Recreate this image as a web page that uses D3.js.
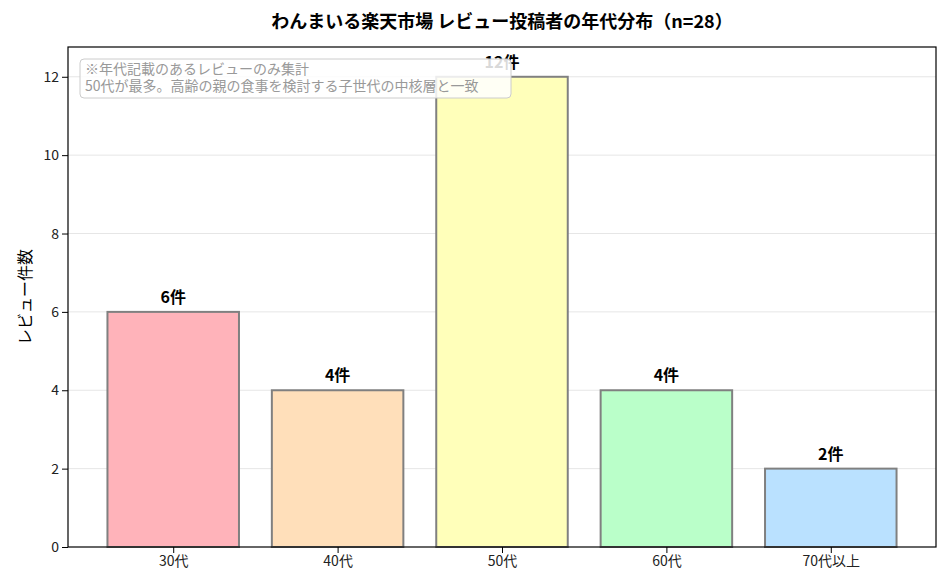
<!DOCTYPE html>
<html><head><meta charset="utf-8">
<script src="https://cdn.jsdelivr.net/npm/d3@7"></script>
<style>body{margin:0;background:#fff;font-family:"Noto Sans CJK JP","Noto Sans",sans-serif;}</style>
</head><body><div id="chart"></div>
<script>
// data
const categories = ['30代', '40代', '50代', '60代', '70代以上'];
const counts = [6, 4, 12, 4, 2];
const colors = ['#ffb3ba', '#ffdfba', '#ffffba', '#baffc9', '#bae1ff'];
const yTicks = [0, 2, 4, 6, 8, 10, 12];
const noteLines = ['※年代記載のあるレビューのみ集計', '50代が最多。高齢の親の食事を検討する子世代の中核層と一致'];

const W = 947, H = 587;
const margin = { top: 47, right: 11, bottom: 40, left: 68 };
const w = W - margin.left - margin.right, h = H - margin.top - margin.bottom;

const svg = d3.select('#chart').append('svg').attr('width', W).attr('height', H);
const g = svg.append('g').attr('transform', `translate(${margin.left},${margin.top})`);

const x = d3.scaleLinear().domain([-0.64, 4.64]).range([0, w]);
const y = d3.scaleLinear().domain([0, 12.76]).range([h, 0]);

// grid
g.append('g').selectAll('line').data(yTicks.slice(1)).enter().append('line')
    .attr('x1', 0).attr('x2', w).attr('y1', d => y(d)).attr('y2', d => y(d))
    .attr('stroke', '#e6e6e6').attr('stroke-width', 1);

// bars
g.append('g').selectAll('rect').data(counts).enter().append('rect')
    .attr('x', (d, i) => x(i - 0.4)).attr('width', x(0.4) - x(-0.4))
    .attr('y', d => y(d)).attr('height', d => h - y(d))
    .attr('fill', (d, i) => colors[i]).attr('stroke', '#808080').attr('stroke-width', 2);

// value labels
g.append('g').selectAll('text').data(counts).enter().append('text')
    .attr('x', (d, i) => x(i)).attr('y', d => y(d) - 9)
    .attr('text-anchor', 'middle').attr('font-size', 16).attr('font-weight', 'bold')
    .text(d => d + '件');

// axes
const xAxis = g.append('g').attr('transform', `translate(0,${h})`)
    .call(d3.axisBottom(x).tickValues(d3.range(categories.length)).tickFormat(i => categories[i]).tickSizeOuter(0));
const yAxis = g.append('g').call(d3.axisLeft(y).tickValues(yTicks).tickSizeOuter(0));
[xAxis, yAxis].forEach(a => {
    a.selectAll('text').attr('font-size', 14).attr('fill', '#222').attr('font-family', '"Noto Sans CJK JP"');
    a.select('.domain').remove();
});

// frame
g.append('rect').attr('width', w).attr('height', h).attr('fill', 'none').attr('stroke', '#000').attr('stroke-width', 1.2);

// y label
svg.append('text').attr('transform', `translate(31,${margin.top + h / 2}) rotate(-90)`)
    .attr('text-anchor', 'middle').attr('font-size', 16).text('レビュー件数');

// title
svg.append('text').attr('x', margin.left + w / 2).attr('y', 28).attr('text-anchor', 'middle')
    .attr('font-size', 18).attr('font-weight', 'bold').text('わんまいる楽天市場 レビュー投稿者の年代分布（n=28）');

// note box
const note = svg.append('g').attr('transform', 'translate(80,59)');
note.append('rect').attr('width', 431).attr('height', 39).attr('rx', 4)
    .attr('fill', 'rgba(255,255,255,0.85)').attr('stroke', '#cccccc');
note.selectAll('text').data(noteLines).enter().append('text')
    .attr('x', 5).attr('y', (d, i) => 15 + i * 17).attr('font-size', 14).attr('fill', '#999')
    .text(d => d);
</script></body></html>
